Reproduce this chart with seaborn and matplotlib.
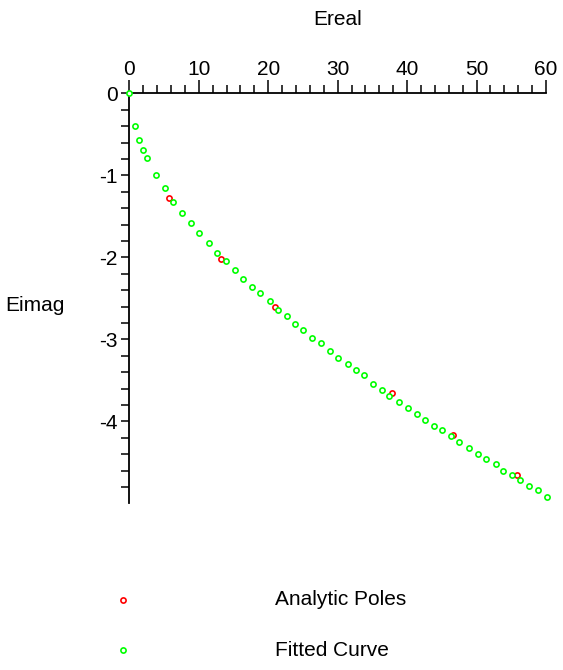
import numpy as np
import pandas as pd
import matplotlib
matplotlib.use('Agg')
import matplotlib.pyplot as plt
import seaborn as sns
from matplotlib.ticker import MultipleLocator, FixedLocator

### Data ###

# Analytic poles (red)
poles_real = [5.72, 13.16, 20.98, 37.78, 46.65, 55.87]
poles_imag = [-1.28, -2.02, -2.61, -3.66, -4.17, -4.65]

# Fitted curve (green)
fit_real = [0.0, 0.82, 1.44, 2.02, 2.59, 3.84, 5.14, 6.36, 7.63, 8.88,
            10.08, 11.52, 12.67, 13.88, 15.26, 16.41, 17.62, 18.77, 20.19, 21.37,
            22.66, 23.86, 25.05, 26.35, 27.60, 28.85, 30.09, 31.44, 32.60, 33.79,
            35.13, 36.34, 37.43, 38.87, 40.08, 41.46, 42.61, 43.82, 45.09, 46.36,
            47.54, 48.95, 50.16, 51.31, 52.75, 53.85, 55.06, 56.25, 57.55, 58.80,
            60.18]
fit_imag = [0.0, -0.40, -0.57, -0.69, -0.79, -0.99, -1.16, -1.33, -1.46, -1.58,
            -1.70, -1.83, -1.95, -2.05, -2.15, -2.26, -2.36, -2.44, -2.53, -2.64,
            -2.72, -2.81, -2.89, -2.98, -3.05, -3.14, -3.23, -3.30, -3.37, -3.44,
            -3.54, -3.62, -3.69, -3.77, -3.84, -3.91, -3.99, -4.06, -4.11, -4.18,
            -4.25, -4.32, -4.40, -4.46, -4.52, -4.60, -4.66, -4.72, -4.79, -4.84,
            -4.92]

x_ticks = [0, 10, 20, 30, 40, 50, 60]
y_ticks = [0, -1, -2, -3, -4]

poles = pd.DataFrame({'Ereal': poles_real, 'Eimag': poles_imag})
fit = pd.DataFrame({'Ereal': fit_real, 'Eimag': fit_imag})

### Plot ###

sns.set_style('white')
plt.rcParams['font.family'] = ['Liberation Sans', 'DejaVu Sans']
plt.rcParams['axes.unicode_minus'] = False
# plain black text like the original
for k in ['text.color', 'axes.labelcolor', 'xtick.color', 'ytick.color']:
    plt.rcParams[k] = 'black'

fig = plt.figure(figsize=(5.63, 6.70), dpi=100)
ax = fig.add_axes([0.2297, 0.2488, 0.9698 - 0.2297, 0.8607 - 0.2488])

sns.scatterplot(data=poles, x='Ereal', y='Eimag', ax=ax, marker='o', s=14,
                color='white', edgecolor='#ff0000', linewidth=1.2,
                label='Analytic Poles', clip_on=False, zorder=3)
sns.scatterplot(data=fit, x='Ereal', y='Eimag', ax=ax, marker='o', s=14,
                color='white', edgecolor='#00ff00', linewidth=1.2,
                label='Fitted Curve', clip_on=False, zorder=4)

ax.set_xlim(0, 60)
ax.set_ylim(-5.0, 0)

# axes cross at the origin: keep the top and left spines only
ax.spines['bottom'].set_visible(False)
ax.spines['right'].set_visible(False)
for s in ['top', 'left']:
    ax.spines[s].set_color('black')
    ax.spines[s].set_linewidth(1.3)

ax.xaxis.tick_top()
ax.xaxis.set_label_position('top')
ax.xaxis.set_major_locator(FixedLocator(x_ticks))
ax.xaxis.set_minor_locator(MultipleLocator(2))
ax.yaxis.set_major_locator(FixedLocator(y_ticks))
ax.yaxis.set_minor_locator(FixedLocator(np.arange(-4.8, 0.01, 0.2)))
ax.set_xticklabels([str(t) for t in x_ticks])
ax.set_yticklabels([str(t) for t in y_ticks])

ax.tick_params(axis='x', which='major', direction='out', length=9.5, width=1.1,
               pad=1, labelsize=15, top=True, bottom=False, color='black')
ax.tick_params(axis='x', which='minor', direction='out', length=5.5, width=1.1,
               top=True, bottom=False, color='black')
ax.tick_params(axis='y', which='both', direction='out', length=5.5, width=1.1,
               pad=3, labelsize=15, left=True, color='black')

ax.set_xlabel('Ereal', fontsize=15, labelpad=25)
ax.set_ylabel('Eimag', fontsize=15, rotation=0, ha='center', va='center')
ax.yaxis.set_label_coords(-0.226, 0.483)

ax.get_legend().remove()
handles, labels = ax.get_legend_handles_labels()
fig.legend(handles, labels, loc='upper left', bbox_to_anchor=(0.2, 0.119),
           frameon=False, fontsize=15, handlelength=1, handletextpad=6.8,
           borderpad=0, borderaxespad=0, labelspacing=1.5)

fig.savefig('out.png', dpi=100)
